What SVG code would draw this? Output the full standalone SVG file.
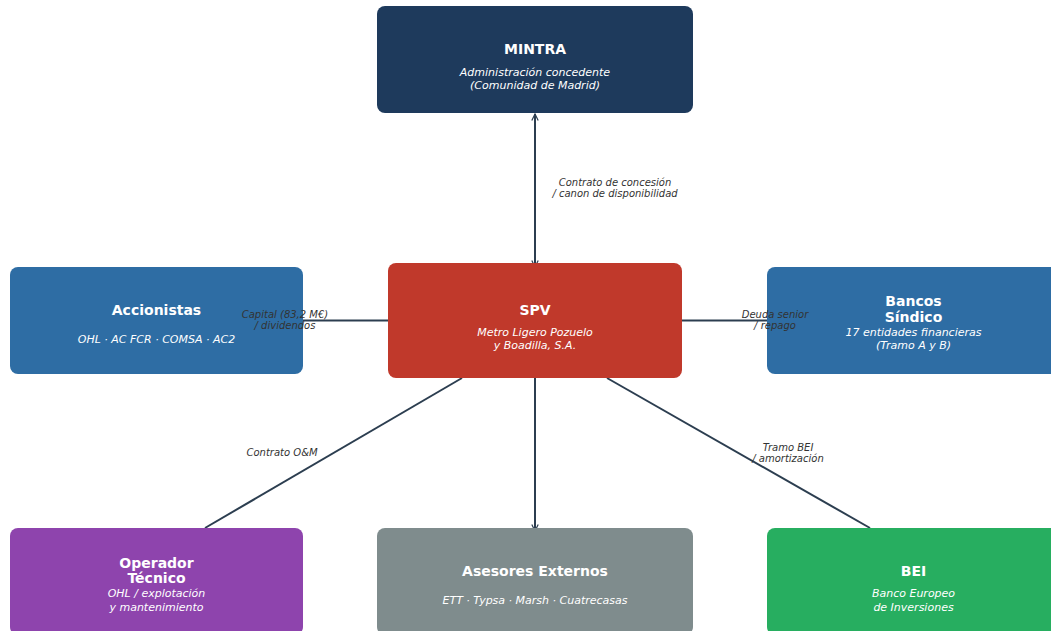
<svg xmlns="http://www.w3.org/2000/svg" width="1051" height="631" viewBox="0 0 1051 631">
<defs>
<marker id="arr" viewBox="0 0 10 10" refX="9" refY="5" markerWidth="8" markerHeight="8" orient="auto-start-reverse" markerUnits="userSpaceOnUse">
<path d="M1,1 L9,5 L1,9" fill="none" stroke="#2c3e50" stroke-width="1.5"/>
</marker>
</defs>
<style>
.box{stroke:none}
.t{font-family:"DejaVu Sans",sans-serif;font-size:14px;font-weight:bold;fill:#fff;text-anchor:middle}
.s{font-family:"DejaVu Sans",sans-serif;font-size:11px;font-style:italic;fill:#fff;text-anchor:middle}
.l{font-family:"DejaVu Sans",sans-serif;font-size:10px;font-style:italic;fill:#333;text-anchor:middle}
.c{stroke:#2c3e50;stroke-width:2;fill:none}
</style>
<rect width="1051" height="631" fill="#fff"/>
<g id="connectors">
<line class="c" x1="535" y1="114" x2="535" y2="267" marker-start="url(#arr)" marker-end="url(#arr)"/>
<line class="c" x1="303" y1="320.5" x2="388" y2="320.5"/>
<line class="c" x1="682" y1="320.5" x2="767" y2="320.5"/>
<line class="c" x1="462" y1="378" x2="205" y2="528"/>
<line class="c" x1="535" y1="378" x2="535" y2="531" marker-end="url(#arr)"/>
<line class="c" x1="607" y1="378" x2="870" y2="528"/>
</g>
<g id="mintra">
<rect class="box" x="377" y="6" width="316" height="107" rx="8" fill="#1e3a5c"/>
<text class="t" x="535" y="54">MINTRA</text>
<text class="s" x="535" y="76">Administración concedente</text>
<text class="s" x="535" y="89">(Comunidad de Madrid)</text>
</g>
<g id="accionistas">
<rect class="box" x="10" y="267" width="293" height="107" rx="8" fill="#2e6da4"/>
<text class="t" x="156.5" y="315">Accionistas</text>
<text class="s" x="156.5" y="343">OHL · AC FCR · COMSA · AC2</text>
</g>
<g id="spv">
<rect class="box" x="388" y="263" width="294" height="115" rx="8" fill="#c0392b"/>
<text class="t" x="535" y="315">SPV</text>
<text class="s" x="535" y="336">Metro Ligero Pozuelo</text>
<text class="s" x="535" y="349">y Boadilla, S.A.</text>
</g>
<g id="bancos">
<rect class="box" x="767" y="267" width="293" height="107" rx="8" fill="#2e6da4"/>
<text class="t" x="913.5" y="306">Bancos</text>
<text class="t" x="913.5" y="322">Síndico</text>
<text class="s" x="913.5" y="336">17 entidades financieras</text>
<text class="s" x="913.5" y="349">(Tramo A y B)</text>
</g>
<g id="operador">
<rect class="box" x="10" y="528" width="293" height="107" rx="8" fill="#8e44ad"/>
<text class="t" x="156.5" y="568">Operador</text>
<text class="t" x="156.5" y="583">Técnico</text>
<text class="s" x="156.5" y="597">OHL / explotación</text>
<text class="s" x="156.5" y="611">y mantenimiento</text>
</g>
<g id="asesores">
<rect class="box" x="377" y="528" width="316" height="107" rx="8" fill="#7f8c8d"/>
<text class="t" x="535" y="576">Asesores Externos</text>
<text class="s" x="535" y="604">ETT · Typsa · Marsh · Cuatrecasas</text>
</g>
<g id="bei">
<rect class="box" x="767" y="528" width="293" height="107" rx="8" fill="#27ae60"/>
<text class="t" x="913.5" y="576">BEI</text>
<text class="s" x="913.5" y="597">Banco Europeo</text>
<text class="s" x="913.5" y="611">de Inversiones</text>
</g>
<g id="labels">
<text class="l" x="615" y="186">Contrato de concesión</text>
<text class="l" x="615" y="197">/ canon de disponibilidad</text>
<text class="l" x="285" y="318">Capital (83,2 M€)</text>
<text class="l" x="285" y="329">/ dividendos</text>
<text class="l" x="775" y="318">Deuda senior</text>
<text class="l" x="775" y="329">/ repago</text>
<text class="l" x="282" y="456">Contrato O&amp;M</text>
<text class="l" x="788" y="451">Tramo BEI</text>
<text class="l" x="788" y="462">/ amortización</text>
</g>
</svg>
